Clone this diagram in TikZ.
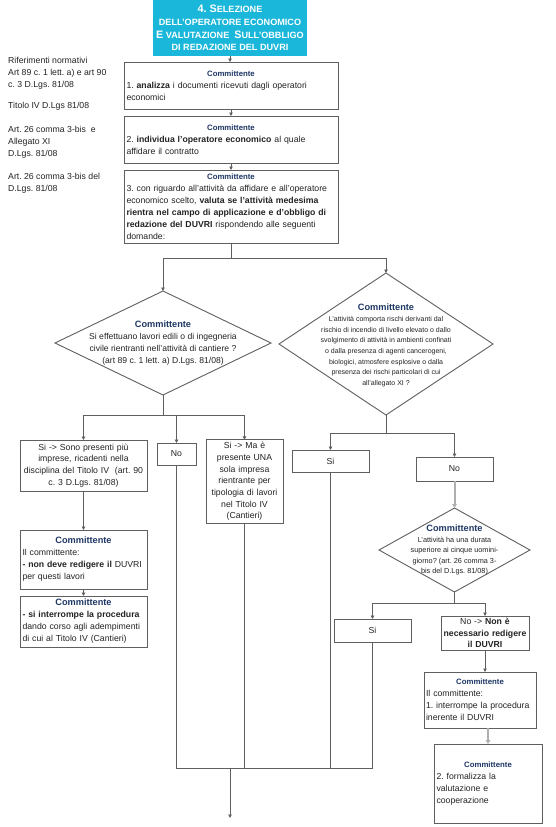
\documentclass[tikz,border=0pt]{standalone}
\usepackage{fontspec}
\setmainfont{Liberation Sans}
\usetikzlibrary{arrows.meta,shapes.geometric}
\frenchspacing
\definecolor{lgray}{RGB}{95,95,95}
\definecolor{ggray}{RGB}{175,175,175}
\definecolor{txt}{RGB}{35,35,35}
\definecolor{cblue}{RGB}{30,55,100}
\definecolor{tcyan}{RGB}{27,183,218}
\newcommand{\cmt}[1][7.8]{\makebox[\linewidth][c]{\fontsize{#1}{12}\selectfont\textbf{\color{cblue}Committente}}\\}
\newcommand{\cmtc}{{\fontsize{9.2}{11}\selectfont\textbf{\color{cblue}Committente}}\\}
\newcommand{\bigc}[1]{{\fontsize{10.8}{12.5}\selectfont #1}}
\begin{document}
\begin{tikzpicture}[x=1pt,y=-1pt,
  bx/.style={draw=lgray, line width=1pt, rectangle, inner sep=2.5pt, outer sep=0pt,
    font=\fontsize{8.7}{12}\selectfont, text=txt, align=left},
  bxc/.style={bx, align=center, font=\fontsize{8.7}{11.7}\selectfont},
  dia/.style={draw=lgray, line width=0.9pt, diamond, inner sep=0pt, outer sep=0pt},
  dtxt/.style={align=center, inner sep=0pt, text=txt},
  reftxt/.style={align=left, inner sep=0pt, anchor=north west, text=txt, font=\fontsize{8.7}{12}\selectfont},
  ln/.style={draw=lgray, line width=1pt},
  arr/.style={ln, -{Triangle[length=3.5pt,width=3.5pt]}},
  garr/.style={draw=ggray, line width=2pt, -{Triangle[length=4pt,width=4.5pt]}}]
\useasboundingbox (0,0) rectangle (556,827);
\fill[white] (0,0) rectangle (556,827);

% title
\node[fill=tcyan, minimum width=154pt, minimum height=56pt, inner sep=0pt, outer sep=0pt,
  text=white, align=center, font=\bfseries\fontsize{9.1}{12.6}\selectfont] (title) at (230,28)
  {\bigc{4. S}ELEZIONE\\DELL'OPERATORE ECONOMICO\\\bigc{E} VALUTAZIONE \ \bigc{S}ULL'OBBLIGO\\DI REDAZIONE DEL DUVRI};

% left references
\node[reftxt] (ref1) at (8,56.5) {Riferimenti normativi\\Art 89 c. 1 lett. a) e art 90\\c. 3 D.Lgs. 81/08};
\node[reftxt] (ref2) at (8,101.5) {Titolo IV D.Lgs 81/08};
\node[reftxt] (ref3) at (8,125.5) {Art. 26 comma 3-bis \ e\\Allegato XI\\D.Lgs. 81/08};
\node[reftxt] (ref4) at (8,172.5) {Art. 26 comma 3-bis del\\D.Lgs. 81/08};

% top boxes
\node[bx, text width=209pt, minimum height=47pt] (b1) at (231,85.5)
  {\cmt 1. \textbf{analizza} i documenti ricevuti dagli operatori\\economici};
\node[bx, text width=209pt, minimum height=47pt] (b2) at (231,139.5)
  {\cmt 2. \textbf{individua l'operatore economico} al quale\\affidare il contratto};
\node[bx, text width=209pt, minimum height=73pt] (b3) at (231,206.5)
  {\cmt 3. con riguardo all'attività da affidare e all'operatore\\economico scelto, \textbf{valuta se l'attività medesima}\\\textbf{rientra nel campo di applicazione e d'obbligo di}\\\textbf{redazione del DUVRI} rispondendo alle seguenti\\domande:};

% diamonds
\node[dia, minimum width=216pt, minimum height=104pt] (d1) at (163,343) {};
\node[dtxt, font=\fontsize{8.6}{11.8}\selectfont] (d1t) at (d1.center)
  {\cmtc Si effettuano lavori edili o di ingegneria\\civile rientranti nell'attività di cantiere ?\\(art 89 c. 1 lett. a) D.Lgs. 81/08)};
\node[dia, minimum width=214pt, minimum height=142pt] (d2) at (386,344) {};
\node[dtxt, font=\fontsize{7.0}{10.7}\selectfont] (d2t) at (386,345.5)
  {\cmtc L'attività comporta rischi derivanti dal\\rischio di incendio di livello elevato o dallo\\svolgimento di attività in ambienti confinati\\o dalla presenza di agenti cancerogeni,\\biologici, atmosfere esplosive o dalla\\presenza dei rischi particolari di cui\\all'allegato XI ?};

% left branch
\node[bxc, text width=122pt, minimum height=51pt] (L1) at (83.5,465.5)
  {Si -> Sono presenti più\\imprese, ricadenti nella\\disciplina del Titolo IV \ (art. 90\\c. 3 D.Lgs. 81/08)};
\node[bx, text width=122pt, minimum height=59pt] (L2) at (83.5,559.5)
  {\cmt[9.2] Il committente:\\\textbf{- non deve redigere il} DUVRI\\per questi lavori};
\node[bx, text width=122pt, minimum height=51pt] (L3) at (83.5,621.5)
  {\cmt[9.2] \textbf{- si interrompe la procedura}\\dando corso agli adempimenti\\di cui al Titolo IV (Cantieri)};
\node[bxc, text width=34pt, minimum height=22pt] (N1) at (176.5,454) {No};
\node[bxc, text width=72pt, minimum height=83pt] (S3) at (244.5,481.5)
  {Si -> Ma è\\presente UNA\\sola impresa\\rientrante per\\tipologia di lavori\\nel Titolo IV\\(Cantieri)};

% right branch
\node[bxc, text width=72pt, minimum height=22pt] (R1) at (330.5,461) {Si};
\node[bxc, text width=72pt, minimum height=24pt] (R2) at (454.5,469) {No};
\node[dia, minimum width=151pt, minimum height=84pt] (d3) at (454.5,550) {};
\node[dtxt, font=\fontsize{7.3}{10.5}\selectfont] (d3t) at (d3.center)
  {\cmtc L'attività ha una durata\\superiore ai cinque uomini-\\giorno? (art. 26 comma 3-\\bis del D.Lgs. 81/08)};
\node[bxc, text width=72pt, minimum height=23pt] (R3) at (372.5,630.5) {Si};
\node[bxc, inner sep=1pt, text width=86pt, minimum height=34pt] (R4) at (485,633)
  {No -> \textbf{Non è}\\\textbf{necessario redigere}\\\textbf{il DUVRI}};
\node[bx, inner sep=2pt, text width=108pt, minimum height=56pt] (R5) at (480,700)
  {\cmt Il committente:\\1. interrompe la procedura\\inerente il DUVRI};
\node[bx, text width=103pt, minimum height=79pt] (R6) at (488,783.5)
  {\cmt 2. formalizza la\\valutazione e\\cooperazione};

% connectors
\draw[arr] (title.south) -- (title.south |- b1.north);
\draw[arr] (b1) -- (b2);
\draw[arr] (b2) -- (b3);
\coordinate (j1) at (231,258);
\draw[ln] (b3.south) -- (j1);
\draw[arr] (j1) -| (d1.north);
\draw[arr] (j1) -| (d2.north);
\coordinate (j2) at (163,415);
\draw[ln] (d1.south) -- (j2);
\draw[arr] (j2) -| (L1.north);
\draw[arr] (j2) -| (N1.north);
\draw[arr] (j2) -| (S3.north);
\draw[arr] (L1) -- (L2);
\draw[arr] (L2) -- (L3);
\coordinate (j3) at (386,433);
\draw[ln] (d2.south) -- (j3);
\draw[arr] (j3) -| (R1.north);
\draw[arr] (j3) -| (R2.north);
\draw[garr] (R2.south) -- (d3.north);
\coordinate (j4) at (454.5,603);
\draw[ln] (d3.south) -- (j4);
\draw[arr] (j4) -| (R3.north);
\draw[arr] (j4) -| (R4.north);
\draw[arr] (R4.south) -- (R4.south |- R5.north);
\draw[garr] (R6.north |- R5.south) -- (R6.north);
\coordinate (m) at (230,768);
\coordinate (endp) at (230,818);
\draw[ln] (N1.south) -- (N1.south |- m) -- (R3.south |- m) -- (R3.south);
\draw[ln] (S3.south) -- (S3.south |- m);
\draw[ln] (R1.south) -- (R1.south |- m);
\draw[arr] (m) -- (endp);
\end{tikzpicture}
\end{document}
